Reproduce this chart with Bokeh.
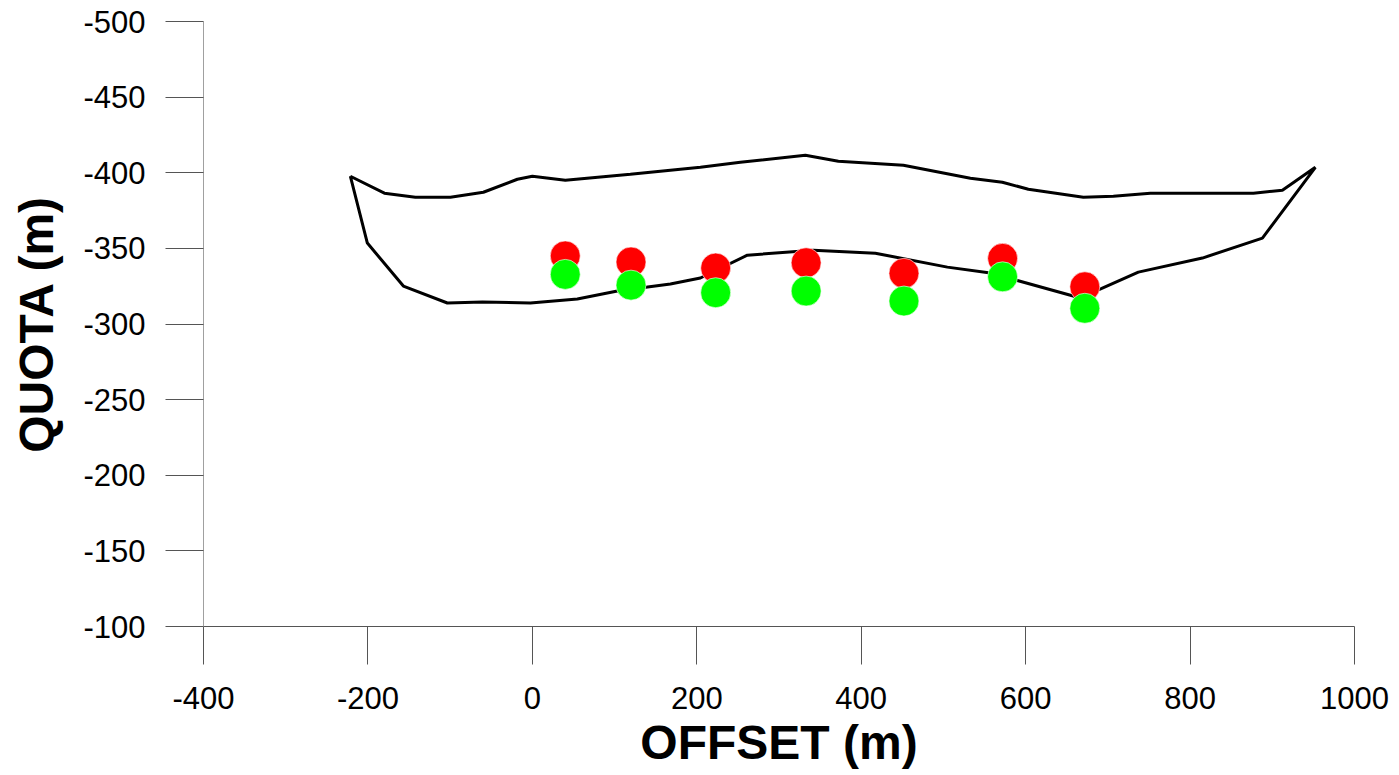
from bokeh.plotting import figure
from bokeh.models import Range1d, FixedTicker
from bokeh.embed import file_html
from bokeh.resources import INLINE

# Profile outline (upper edge, left to right)
top_x = [-221.4, -180.0, -142.3, -99.7, -59.6, -18.2, 0.0, 40.1, 119.2, 204.4, 253.0,
         332.1, 372.2, 451.3, 532.8, 571.7, 603.3, 670.2, 706.7, 751.7, 877.0, 912.3, 952.4]
top_y = [-397.7, -386.5, -383.8, -383.8, -387.1, -395.7, -397.7, -395.0, -399.0, -403.6, -406.9,
         -411.6, -407.6, -405.0, -396.4, -393.7, -389.1, -383.8, -384.5, -386.5, -386.5, -388.4, -403.6]
# Profile outline (lower edge, left to right)
bot_x = [-221.4, -200.7, -156.9, -103.4, -60.8, -2.4, 54.7, 103.4, 167.9, 204.4, 261.5,
         341.8, 417.2, 504.8, 557.1, 666.6, 737.1, 815.0, 888.0, 952.4]
bot_y = [-397.7, -353.5, -325.1, -313.9, -314.5, -313.9, -316.5, -321.8, -326.4, -330.4, -345.5,
         -348.8, -346.8, -337.6, -333.7, -317.2, -334.3, -343.6, -356.8, -403.6]

# Points
pts_x = [40, 120, 223, 333, 452, 572, 672]
red_y = [-345.0, -341.0, -337.0, -340.5, -333.5, -343.4, -324.6]
green_y = [-332.8, -325.7, -320.7, -321.8, -315.2, -331.2, -310.4]

x_ticks = [-400, -200, 0, 200, 400, 600, 800, 1000]
y_ticks = [-500, -450, -400, -350, -300, -250, -200, -150, -100]

p = figure(width=1391, height=771, output_backend="svg", toolbar_location=None,
           x_range=Range1d(-400, 1000), y_range=Range1d(-100, -500),
           min_border_left=203, min_border_right=37, min_border_top=21, min_border_bottom=140)
p.outline_line_color = None
p.grid.visible = False
p.background_fill_color = "white"
p.border_fill_color = "white"

outline_x = top_x + bot_x[::-1]
outline_y = top_y + bot_y[::-1]
p.line(outline_x, outline_y, line_color="black", line_width=3)

p.scatter(pts_x, red_y, size=30, fill_color="#ff0000", line_color="white", line_width=0.6)
p.scatter(pts_x, green_y, size=30, fill_color="#00ff00", line_color="white", line_width=0.6)

for ax, ticks in ((p.xaxis[0], x_ticks), (p.yaxis[0], y_ticks)):
    ax.ticker = FixedTicker(ticks=ticks)
    ax.major_label_overrides = {t: str(t) for t in ticks}
    ax.minor_tick_line_color = None
    ax.major_tick_in = 0
    ax.major_tick_out = 38
    ax.major_tick_line_color = "#555555"
    ax.major_label_text_font = "Liberation Sans"
    ax.major_label_text_font_size = "31px"
    ax.major_label_text_color = "black"
    ax.axis_label_text_font = "Liberation Sans"
    ax.axis_label_text_font_size = "48px"
    ax.axis_label_text_font_style = "bold"
    ax.axis_label_text_color = "black"

p.xaxis.axis_label = "OFFSET (m)"
p.yaxis.axis_label = "QUOTA (m)"
p.xaxis.axis_line_color = "#555555"
p.yaxis.axis_line_color = "#a0a0a0"
p.xaxis.major_label_standoff = 22
p.yaxis.major_label_standoff = 20
p.xaxis.axis_label_standoff = 4
p.yaxis.axis_label_standoff = 17

open("out.html", "w").write(file_html(p, INLINE))
